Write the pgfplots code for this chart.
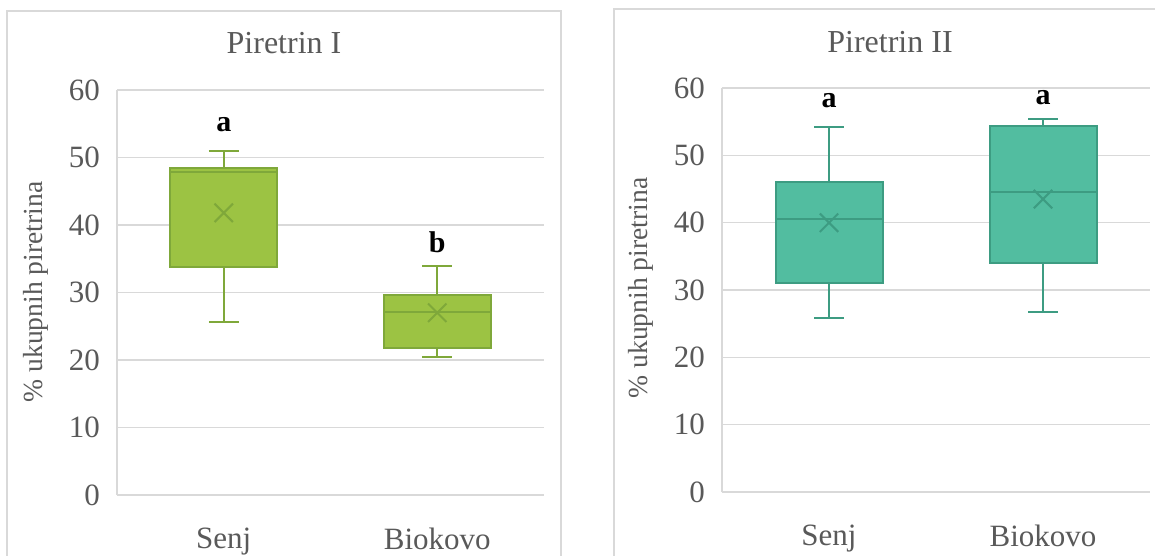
\documentclass[border=0pt]{standalone}
\usepackage{fontspec}
\setmainfont{Liberation Serif}
\usepackage{pgfplots}
\pgfplotsset{compat=1.18}
\usepgfplotslibrary{statistics}
\definecolor{gridgray}{HTML}{D9D9D9}
\definecolor{txtgray}{HTML}{595959}
\definecolor{boxgreen}{HTML}{9CC343}
\definecolor{edgegreen}{HTML}{7FA83A}
\definecolor{boxteal}{HTML}{52BDA0}
\definecolor{edgeteal}{HTML}{3D9C82}

\tikzset{letter/.style={font=\fontsize{15}{18}\selectfont\bfseries, text=black}}
\pgfplotsset{
  panel/.style={
    scale only axis,
    xmin=0.5, xmax=2.5,
    ymin=0, ymax=60,
    xtick={1,2}, xticklabels={Senj,Biokovo},
    ytick={0,10,...,60},
    axis x line=bottom, axis y line=left,
    axis line style={draw=gridgray, line width=0.75pt, -},
    major tick length=0pt,
    ymajorgrids,
    grid style={draw=gridgray, line width=0.75pt},
    tick label style={font=\fontsize{15.5}{18}\selectfont, text=txtgray},
    yticklabel style={xshift=-5pt},
    xticklabel style={yshift=-13pt},
    /pgf/number format/assume math mode=true,
    boxplot/draw direction=y,
    clip=false,
  },
  meanx/.style={boxplot/every average/.style={/tikz/mark=x,
    /tikz/mark size=6.5pt,
    /tikz/mark options={draw=#1, line width=0.6pt}}},
}

\begin{document}
\begin{tikzpicture}
\useasboundingbox (0,0) rectangle (577.5pt,278pt);

% panel frames
\draw[gridgray, line width=0.75pt] (3.5pt,0) -- (3.5pt,272.5pt) -- (280.5pt,272.5pt) -- (280.5pt,0);
\draw[gridgray, line width=0.75pt] (307pt,0) -- (307pt,273.5pt) -- (577.5pt,273.5pt);

% Piretrin I
\begin{axis}[panel, at={(58.5pt,30.5pt)}, anchor=south west,
  width=213.5pt, height=202.5pt]
\addplot[draw=edgegreen, fill=boxgreen, line width=1pt, meanx=edgegreen,
  boxplot prepared={draw position=1, lower whisker=25.6, lower quartile=33.8,
    median=47.8, upper quartile=48.4, upper whisker=51.0, average=41.8,
    box extend=0.5, whisker extend=0.14}] coordinates {};
\addplot[draw=edgegreen, fill=boxgreen, line width=1pt, meanx=edgegreen,
  boxplot prepared={draw position=2, lower whisker=20.5, lower quartile=21.8,
    median=27.1, upper quartile=29.6, upper whisker=34.0, average=27.0,
    box extend=0.5, whisker extend=0.14}] coordinates {};
\node[letter] at (axis cs:1,54.8) {a};
\node[letter] at (axis cs:2,37.5) {b};
\end{axis}

% Piretrin II
\begin{axis}[panel, at={(361pt,32pt)}, anchor=south west,
  width=214pt, height=202pt]
\addplot[draw=edgeteal, fill=boxteal, line width=1pt, meanx=edgeteal,
  boxplot prepared={draw position=1, lower whisker=25.9, lower quartile=31.1,
    median=40.6, upper quartile=46.1, upper whisker=54.2, average=40.0,
    box extend=0.5, whisker extend=0.14}] coordinates {};
\addplot[draw=edgeteal, fill=boxteal, line width=1pt, meanx=edgeteal,
  boxplot prepared={draw position=2, lower whisker=26.7, lower quartile=34.0,
    median=44.5, upper quartile=54.3, upper whisker=55.4, average=43.5,
    box extend=0.5, whisker extend=0.14}] coordinates {};
\node[letter] at (axis cs:1,58.2) {a};
\node[letter] at (axis cs:2,58.6) {a};
\end{axis}

% titles and axis labels
\node[font=\fontsize{16}{19}\selectfont, text=txtgray] at (142pt,256.5pt) {Piretrin I};
\node[font=\fontsize{16}{19}\selectfont, text=txtgray] at (445pt,257pt) {Piretrin II};
\node[font=\fontsize{13.8}{16}\selectfont, text=txtgray, rotate=90] at (18pt,132pt) {\% ukupnih piretrina};
\node[font=\fontsize{13.8}{16}\selectfont, text=txtgray, rotate=90] at (320.5pt,134pt) {\% ukupnih piretrina};
\end{tikzpicture}
\end{document}
